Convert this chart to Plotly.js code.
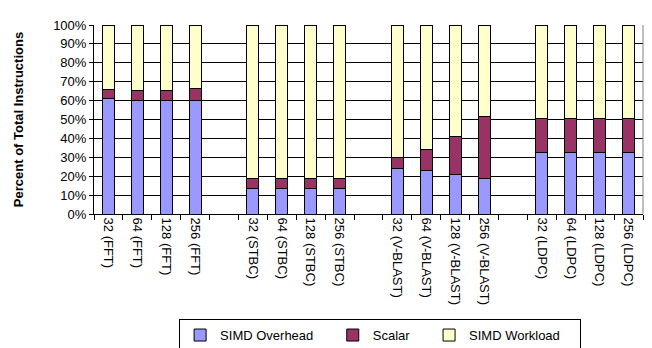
<!DOCTYPE html>
<html>
<head>
<meta charset="utf-8">
<script src="https://cdn.plot.ly/plotly-3.0.1.min.js"></script>
<style>html,body{margin:0;padding:0;background:#fff;}#chart{width:652px;height:348px;}</style>
</head>
<body>
<div id="chart"></div>
<script>
// Categories (blank entries are spacers between groups)
const categories = ["32 (FFT)", "64 (FFT)", "128 (FFT)", "256 (FFT)", " ",
  "32 (STBC)", "64 (STBC)", "128 (STBC)", "256 (STBC)", "  ",
  "32 (V-BLAST)", "64 (V-BLAST)", "128 (V-BLAST)", "256 (V-BLAST)", "   ",
  "32 (LDPC)", "64 (LDPC)", "128 (LDPC)", "256 (LDPC)"];

const simdOverhead = [61.1, 59.9, 59.9, 60.2, null,
  13.7, 13.7, 13.7, 13.7, null,
  23.9, 23.0, 20.8, 19.0, null,
  32.8, 32.8, 32.8, 32.8];
const scalar = [4.9, 5.2, 5.2, 6.3, null,
  5.3, 5.3, 5.3, 5.3, null,
  6.0, 11.0, 20.0, 32.6, null,
  17.9, 17.9, 17.9, 17.9];
const simdWorkload = simdOverhead.map((v, i) => v === null ? null : 100 - v - scalar[i]);

const seriesNames = ["SIMD Overhead", "Scalar", "SIMD Workload"];
const pad = '\u00a0\u00a0\u00a0\u00a0';

const line = {color: '#000', width: 1};
const traces = [
  {type: 'bar', name: seriesNames[0] + pad, x: categories, y: simdOverhead, marker: {color: '#9999FF', line: line}},
  {type: 'bar', name: seriesNames[1] + pad, x: categories, y: scalar, marker: {color: '#993366', line: line}},
  {type: 'bar', name: seriesNames[2] + pad, x: categories, y: simdWorkload, marker: {color: '#FFFFCC', line: line}}
];

const layout = {
  width: 652, height: 348,
  margin: {l: 94, r: 9, t: 25, b: 134, autoexpand: false},
  barmode: 'stack',
  bargap: 0.585,
  paper_bgcolor: '#fff', plot_bgcolor: '#fff',
  font: {family: 'Liberation Sans, Arial, sans-serif', color: '#000', size: 13},
  hovermode: false,
  xaxis: {
    type: 'category',
    categoryorder: 'array', categoryarray: categories,
    tickangle: 90,
    tickson: 'boundaries',
    ticks: 'outside', ticklen: 5, tickcolor: '#000',
    showline: true, linecolor: '#000', linewidth: 1,
    showgrid: false,
    tickfont: {size: 13},
    automargin: false,
    fixedrange: true
  },
  yaxis: {
    range: [0, 100], dtick: 10, ticksuffix: '%',
    ticks: 'outside', ticklen: 4, tickcolor: '#000',
    showline: true, linecolor: '#000', linewidth: 1,
    showgrid: true, gridcolor: '#000', gridwidth: 1,
    zeroline: false,
    tickfont: {size: 13},
    title: {text: 'Percent of Total Instructions', font: {size: 13, weight: 'bold'}, standoff: 26},
    automargin: false,
    fixedrange: true
  },
  shapes: [
    {type: 'line', xref: 'paper', yref: 'paper', x0: 1, x1: 1, y0: 0, y1: 1, line: {color: '#808080', width: 1}}
  ],
  legend: {
    orientation: 'h', traceorder: 'normal',
    x: 0.155, xanchor: 'left', y: -0.556, yanchor: 'top',
    bordercolor: '#000', borderwidth: 1, bgcolor: '#fff',
    font: {size: 13},
    itemwidth: 30
  },
  showlegend: true
};

Plotly.newPlot('chart', traces, layout, {displayModeBar: false, staticPlot: true});
</script>
</body>
</html>
